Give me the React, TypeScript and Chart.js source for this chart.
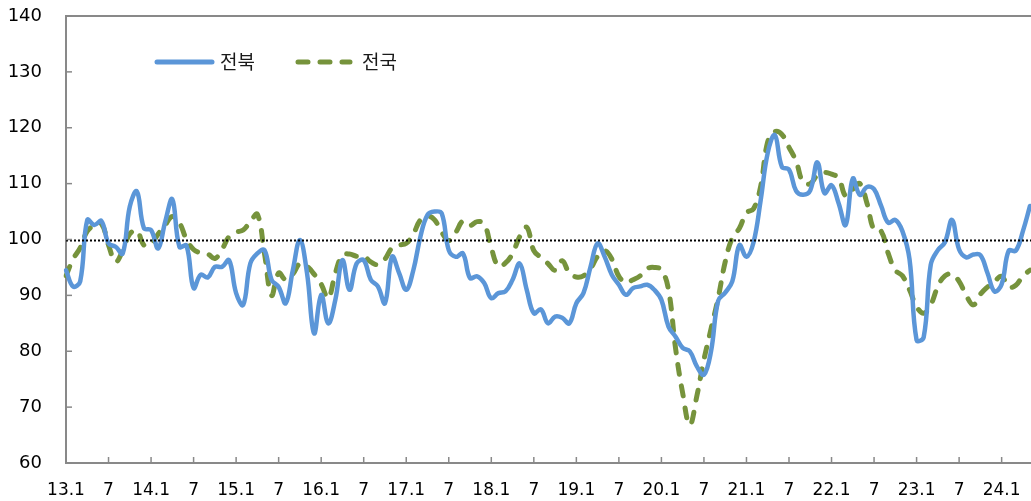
import React, { useEffect, useRef } from 'react';
import { Chart, registerables } from 'chart.js';

Chart.register(...registerables);

// ---- Data ----
const START_YEAR = 13; // 2013.1
const MONTHS = 137; // 13.1 .. 24.5
const categories: string[] = Array.from({ length: MONTHS }, (_, i) => `${START_YEAR + Math.floor(i / 12)}.${(i % 12) + 1}`);

const seriesNames = ['전북', '전국'];

const jeonbuk: number[] = [
  94.5, 91.6, 92.5, 103.5, 102.6, 103.3, 99.3, 98.7, 97.5, 105.9, 108.6, 102,
  101.7, 98.4, 103.2, 107.2, 98.7, 98.9, 91.3, 93.7, 93.2, 95.1, 95.1, 96.3,
  90.4, 88.3, 95.7, 97.5, 98.1, 92.8, 91.5, 88.6, 94.5, 99.9, 94, 83.2,
  90.1, 85, 89.2, 96.3, 91, 95.7, 96.3, 92.8, 91.6, 88.6, 96.9, 94,
  91, 94.5, 100.5, 104.4, 105, 104.7, 98.1, 96.9, 97.5, 93.1, 93.4, 92.2,
  89.5, 90.4, 90.7, 92.8, 95.7, 91, 86.8, 87.5, 85, 86.2, 86, 85,
  88.6, 90.4, 95.1, 99.3, 96.9, 93.7, 91.9, 90.1, 91.3, 91.6, 91.9, 91,
  89.2, 84.4, 82.6, 80.6, 80, 77.3, 75.8, 80, 89, 90.5, 92.5, 99,
  96.9, 99.5, 107, 115.5, 118.7, 113, 112.5, 108.7, 108, 108.8, 113.8, 108.3,
  109.7, 106.5, 102.6, 110.9, 108, 109.4, 109, 106, 103, 103.5, 101.5, 96.5,
  82, 82.5, 95.5, 98.1, 99.5, 103.5, 98.2, 96.8, 97.3, 97.2, 94, 90.7,
  92, 98, 98, 101.5, 106,
];

const national: number[] = [
  93.5, 96.5, 98.5, 101.5, 102.5, 102.8, 99, 96, 98, 101, 101.6, 99,
  99.2, 101, 102.6, 104.1, 103, 100, 98.2, 97.6, 97.4, 96.6, 98.2, 100.5,
  101.3, 101.7, 103.2, 104.5, 97.5, 90, 94, 92.8, 93.8, 95.7, 95.2, 93.8,
  92, 89.5, 94, 97.2, 97.4, 97, 97, 96, 95.5, 96.5, 98.5, 99,
  99.3, 101, 103.5, 104.2, 103.5, 101.3, 99.8, 101.3, 103.3, 102.5, 103.2, 102.8,
  98.5, 95.2, 95.8, 97.5, 100.5, 102.2, 98, 96.8, 95.7, 94.5, 96.2, 94,
  93.3, 93.5, 94.8, 97, 98, 96.5, 93.4, 92.3, 92.8, 93.5, 94.8, 95,
  94.6, 91, 80.5, 72.5, 66.8, 72, 78.5, 84, 89.5, 96, 100.3, 102,
  104.8, 105.5, 109.5, 117.5, 119.3, 118.8, 116.5, 114, 110.2, 110, 111.5, 112,
  111.7, 111, 107.8, 109, 110, 106.5, 101.7, 101.5, 97.5, 94.5, 93.5, 91,
  88, 86.8, 88.3, 91.6, 93.5, 93.8, 92.5, 90, 88.3, 90.2, 91.5, 92.5,
  93.4, 91.5, 91.8, 93.5, 94.5,
];

const Y_MIN = 60;
const Y_MAX = 140;
const Y_STEP = 10;
const BASELINE = 100;
const TICK_EVERY = 6; // months between x ticks

const tickLabel = (cat: string): string => {
  const [yy, mm] = cat.split('.');
  if (mm === '1') return `${yy}.1`;
  if (mm === '7') return '7';
  return '';
};

const BLUE = '#5B96D8';
const GREEN = '#76933C';
const AXIS = '#898989';

const decorPlugin = {
  id: 'decor',
  afterDatasetsDraw(chart: any) {
    const { ctx, chartArea: a, scales } = chart;
    const x = scales.x;
    const y = scales.y;
    ctx.save();
    // dotted baseline
    const yb = Math.round(y.getPixelForValue(BASELINE)) + 0.5;
    ctx.strokeStyle = '#000';
    ctx.lineWidth = 2;
    ctx.setLineDash([2, 2]);
    ctx.beginPath();
    ctx.moveTo(a.left, yb);
    ctx.lineTo(chart.width, yb);
    ctx.stroke();
    ctx.setLineDash([]);
    // top border
    ctx.strokeStyle = AXIS;
    ctx.lineWidth = 2;
    ctx.beginPath();
    ctx.moveTo(a.left, a.top);
    ctx.lineTo(chart.width, a.top);
    ctx.stroke();
    // inner tick marks
    ctx.lineWidth = 1.5;
    y.ticks.forEach((t: any) => {
      const py = y.getPixelForValue(t.value);
      ctx.beginPath();
      ctx.moveTo(a.left, py);
      ctx.lineTo(a.left + 6, py);
      ctx.stroke();
    });
    x.ticks.forEach((t: any) => {
      const px = x.getPixelForValue(t.value);
      ctx.beginPath();
      ctx.moveTo(px, a.bottom);
      ctx.lineTo(px, a.bottom - 6);
      ctx.stroke();
    });
    ctx.restore();
  },
  afterDraw(chart: any) {
    const { ctx } = chart;
    const ly = 62;
    ctx.save();
    ctx.lineCap = 'round';
    ctx.lineWidth = 5;
    ctx.strokeStyle = BLUE;
    ctx.beginPath();
    ctx.moveTo(157, ly);
    ctx.lineTo(212, ly);
    ctx.stroke();
    ctx.strokeStyle = GREEN;
    ctx.setLineDash([10, 12]);
    ctx.beginPath();
    ctx.moveTo(298, ly);
    ctx.lineTo(350, ly);
    ctx.stroke();
    ctx.setLineDash([]);
    ctx.fillStyle = '#1a1a1a';
    ctx.font = '19px "Noto Sans CJK KR", sans-serif';
    ctx.textBaseline = 'middle';
    ctx.textAlign = 'left';
    ctx.fillText(seriesNames[0], 220, ly);
    ctx.fillText(seriesNames[1], 362, ly);
    ctx.restore();
  },
};

export default function App() {
  const ref = useRef<HTMLCanvasElement | null>(null);
  useEffect(() => {
    if (!ref.current) return;
    const chart = new Chart(ref.current, {
      type: 'line',
      data: {
        labels: categories,
        datasets: [
          {
            label: seriesNames[0],
            data: jeonbuk,
            borderColor: BLUE,
            borderWidth: 4.5,
            pointRadius: 0,
            tension: 0.4,
            borderCapStyle: 'round',
            borderJoinStyle: 'round',
          },
          {
            label: seriesNames[1],
            data: national,
            borderColor: GREEN,
            borderWidth: 5,
            borderDash: [10, 12],
            pointRadius: 0,
            tension: 0.4,
            borderCapStyle: 'round',
            borderJoinStyle: 'round',
          },
        ],
      },
      options: {
        animation: false,
        responsive: true,
        maintainAspectRatio: false,
        layout: { padding: { top: 16, right: 1, bottom: 0, left: 0 } },
        plugins: { legend: { display: false }, tooltip: { enabled: false } },
        scales: {
          x: {
            type: 'category',
            offset: false,
            grid: { display: true, drawOnChartArea: false, drawTicks: false },
            border: { display: true, color: AXIS, width: 2 },
            afterBuildTicks: (scale: any) => {
              scale.ticks = scale.ticks.filter((t: any) => t.value % TICK_EVERY === 0);
            },
            afterFit: (scale: any) => {
              scale.height = 38;
              scale.paddingLeft = 0;
              scale.paddingRight = 0;
            },
            ticks: {
              autoSkip: false,
              maxRotation: 0,
              padding: 17,
              color: '#000',
              font: { family: '"DejaVu Sans", sans-serif', size: 17 },
              callback: function (this: any, value: any) {
                return tickLabel(categories[value]);
              },
            },
          },
          y: {
            min: Y_MIN,
            max: Y_MAX,
            grid: { display: true, drawOnChartArea: false, drawTicks: false },
            border: { display: true, color: AXIS, width: 2 },
            afterFit: (scale: any) => {
              scale.width = 66;
              scale.paddingTop = 0;
              scale.paddingBottom = 0;
            },
            ticks: {
              stepSize: Y_STEP,
              padding: 24,
              color: '#000',
              font: { family: '"DejaVu Sans", sans-serif', size: 18 },
            },
          },
        },
      },
      plugins: [decorPlugin],
    });
    return () => chart.destroy();
  }, []);
  return (
    <div style={{ position: 'absolute', left: 0, top: 0, width: 1031, height: 501, background: '#fff' }}>
      <canvas ref={ref} />
    </div>
  );
}
